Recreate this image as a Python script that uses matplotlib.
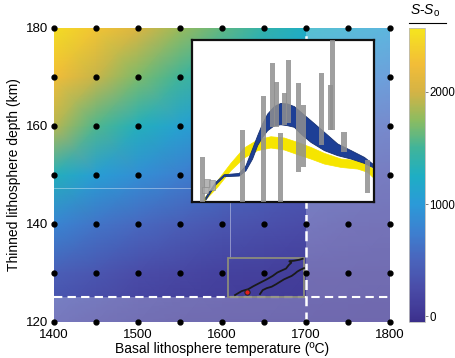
import numpy as np
import matplotlib
matplotlib.use("Agg")
import matplotlib.pyplot as plt
from matplotlib.colors import LinearSegmentedColormap
from matplotlib.patches import Polygon, Rectangle
from matplotlib.lines import Line2D

plt.rcParams['font.family'] = ['Liberation Sans', 'DejaVu Sans']
plt.rcParams['mathtext.fontset'] = 'custom'
plt.rcParams['mathtext.rm'] = 'Liberation Sans'
plt.rcParams['mathtext.it'] = 'Liberation Sans:italic'

# ---- main grid (temperature x depth) ----
temps = [1400, 1450, 1500, 1550, 1600, 1650, 1700, 1750, 1800]
depths = [120, 130, 140, 150, 160, 170, 180]
# S - S0 at grid nodes, rows = depths (120 -> 180)
s_diff = np.array([
    [250, 180, 120, 80, 60, 50, 40, 30, 20],
    [450, 350, 250, 200, 150, 120, 100, 90, 80],
    [800, 650, 550, 450, 350, 300, 250, 200, 180],
    [1300, 1050, 900, 750, 600, 500, 400, 350, 300],
    [1900, 1550, 1300, 1100, 950, 800, 650, 550, 500],
    [2250, 1950, 1700, 1500, 1300, 1150, 1000, 850, 750],
    [2500, 2300, 2050, 1800, 1600, 1400, 1250, 1150, 1050],
])

# model tracks inside the small box
track_a_T = [1615.5, 1623.4, 1631.3, 1637.3, 1645.2, 1653.2, 1660.3, 1665.9,
             1671.0, 1676.2, 1679.4, 1682.5, 1680.1, 1685.7, 1692.0, 1696.0]
track_a_z = [125.5, 126.3, 126.7, 127.3, 128.0, 128.7, 129.4, 130.1,
             130.5, 130.9, 131.6, 132.1, 132.4, 132.5, 132.7, 132.9]
track_b_T = [1645.2, 1648.4, 1653.2, 1659.1, 1664.3, 1669.0, 1673.8,
             1678.9, 1682.9, 1686.9, 1689.7, 1692.8, 1697.6]
track_b_z = [125.7, 126.5, 126.9, 127.2, 127.7, 128.2, 128.7,
             129.1, 129.4, 129.9, 130.3, 130.6, 131.0]
best_T, best_z = 1629.3, 126.1
box_T = (1607.5, 1698.0)
box_z = (125.2, 133.1)
limit_T, limit_z = 1700, 125

# ---- inset (arbitrary 0-100 units) ----
blue_x = [7.3, 12.8, 17.4, 25.7, 29.4, 33.0, 35.8, 38.5, 41.3, 45.0, 48.6, 52.3,
          56.0, 59.6, 65.1, 72.5, 79.8, 87.2, 94.5, 99.1]
blue_hi = [3.1, 12.4, 17.1, 17.9, 22.7, 33.0, 41.2, 48.5, 54.6, 59.2, 61.2, 60.8,
           59.2, 55.7, 50.5, 43.3, 36.1, 32.0, 27.8, 23.7]
blue_lo = [1.4, 10.9, 15.9, 16.3, 19.6, 26.8, 35.1, 40.2, 44.3, 47.4, 48.0, 47.4,
           46.4, 42.3, 37.1, 32.0, 28.9, 26.8, 24.1, 21.6]
yel_x = [6.4, 13.8, 21.1, 28.4, 35.8, 43.1, 50.5, 57.8, 65.1, 72.5, 81.7, 90.8, 96.3, 99.1]
yel_hi = [2.1, 13.4, 24.1, 33.6, 38.6, 40.6, 39.8, 37.1, 34.0, 30.3, 26.8, 25.8, 23.7, 20.6]
yel_lo = [0.6, 9.3, 19.6, 27.4, 32.0, 33.6, 32.4, 29.5, 26.8, 23.7, 21.6, 20.6, 18.6, 15.5]
bar_x = [5.9, 27.5, 39.4, 44.0, 48.6, 46.2, 50.8, 53.2, 58.5, 61.5, 71.0, 76.1, 77.1, 83.5, 96.3]
bar_lo = [0, 0, 0, 46.4, 0, 46.4, 47.4, 48.5, 18.6, 21.6, 35.1, 44.3, 44.3, 30.9, 5.6]
bar_hi = [27.8, 44.3, 65.4, 85.6, 42.3, 74.2, 67.0, 87.6, 73.2, 59.8, 79.4, 72.2, 101, 43.3, 25.8]
box_x = [8.3, 11.0, 7.2]
box_lo = [9.3, 7.2, 5.2]
box_hi = [14.4, 13.4, 9.3]

# colormap
cb_vals = [-50, 0, 250, 500, 750, 1000, 1250, 1500, 1750, 2000, 2250, 2570]
cb_cols = ['#3a2f8a', '#3f3592', '#4a4ca8', '#4a64bc', '#3d80d0', '#2b9ad8',
           '#1eaec4', '#40b49a', '#8cbc60', '#d4b345', '#f2bd38', '#f5e51e']
vmin, vmax = -50, 2570
cmap = LinearSegmentedColormap.from_list(
    'ss0', [((v - vmin) / (vmax - vmin), c) for v, c in zip(cb_vals, cb_cols)])

fig = plt.figure(figsize=(4.55, 3.58), dpi=100)
ax = fig.add_axes([0.1187, 0.1006, 0.7385, 0.8212])
TT, ZZ = np.meshgrid(temps, depths)
mesh = ax.pcolormesh(TT, ZZ, s_diff, shading='gouraud', cmap=cmap, vmin=vmin, vmax=vmax)
ax.set_xlim(1400, 1800)
ax.set_ylim(120, 180)

# washed-out (excluded) region
veil = Polygon([(1400, 120), (1800, 120), (1800, 180), (limit_T, 180),
                (limit_T, limit_z), (1400, limit_z)],
               closed=True, facecolor='white', alpha=0.25, edgecolor='none', zorder=2)
ax.add_patch(veil)

# faint seams in the figure
ax.plot([1400, 1565], [147.3, 147.3], color='white', lw=0.6, alpha=0.45, zorder=2)
ax.plot([1609, 1609], [133.1, 144.3], color='white', lw=0.6, alpha=0.45, zorder=2)

ax.axvline(limit_T, color='white', lw=1.8, ls=(0, (4, 2.5)), zorder=3)
ax.axhline(limit_z, color='white', lw=1.5, ls=(0, (4, 2.5)), zorder=3)

ax.add_patch(Rectangle((box_T[0], box_z[0]), box_T[1] - box_T[0], box_z[1] - box_z[0],
                       fill=False, edgecolor='#8c8c7c', lw=1.3, zorder=4))
ax.plot(track_a_T, track_a_z, color='#1a1a1a', lw=1.3, zorder=5)
ax.plot(track_b_T, track_b_z, color='#1a1a1a', lw=1.3, zorder=5)
ax.plot(best_T, best_z, 'o', ms=3.8, mfc='#e0201a', mec='#222222', mew=0.7, zorder=6)

ax.plot(TT.ravel(), ZZ.ravel(), 'o', color='black', ms=3.5, clip_on=False, zorder=7)

for s in ax.spines.values():
    s.set_visible(False)
ax.set_xticks([1400, 1500, 1600, 1700, 1800])
ax.set_yticks([120, 140, 160, 180])
ax.tick_params(length=0, labelsize=9.5)
ax.tick_params(axis='x', pad=5)
ax.tick_params(axis='y', pad=4)
ax.set_xlabel('Basal lithosphere temperature (ºC)', fontsize=10, labelpad=1)
ax.set_ylabel('Thinned lithosphere depth (km)', fontsize=10, labelpad=4)

# colour bar
cax = fig.add_axes([0.899, 0.1006, 0.035, 0.8212])
cb = fig.colorbar(mesh, cax=cax)
cb.outline.set_edgecolor('#bbbbbb')
cb.outline.set_linewidth(0.6)
cb.set_ticks([0, 1000, 2000])
cax.tick_params(length=2, width=0.6, color='#666666', labelsize=8.3, pad=1)
cax.text(0.03, 1.032, r'$S$-$S_{\rm o}$', transform=cax.transAxes, ha='left',
         va='bottom', fontsize=10)
cax.add_line(Line2D([0.0, 2.3], [1.018, 1.018], transform=cax.transAxes,
                    color='black', lw=0.8, clip_on=False))

# inset
iax = fig.add_axes([0.422, 0.436, 0.400, 0.452], zorder=10)
iax.set_facecolor('white')
iax.fill_between(yel_x, yel_lo, yel_hi, color='#f6e500', lw=0.5, zorder=2)
iax.fill_between(blue_x, blue_lo, blue_hi, color='#1d3f96', edgecolor='#17306f',
                 lw=0.6, zorder=2)
for bx, lo, hi in zip(bar_x, bar_lo, bar_hi):
    iax.add_patch(Rectangle((bx - 1.4, lo), 2.8, hi - lo, facecolor='#8f8f8f',
                            edgecolor='none', alpha=0.85, zorder=3))
for bx, lo, hi in zip(box_x, box_lo, box_hi):
    iax.add_patch(Rectangle((bx - 1.6, lo), 3.2, hi - lo, facecolor='#a8a8a8',
                            edgecolor='#8a8a8a', lw=0.5, alpha=0.85, zorder=3))
iax.set_xlim(0, 100)
iax.set_ylim(0, 100)
iax.set_xticks([])
iax.set_yticks([])
for s in iax.spines.values():
    s.set_linewidth(1.6)
    s.set_color('#111111')

fig.savefig('out.png', dpi=100)
